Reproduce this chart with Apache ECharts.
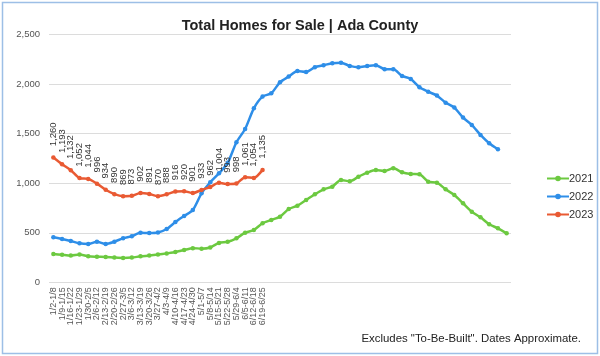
<!DOCTYPE html>
<html>
<head>
<meta charset="utf-8">
<script src="https://cdn.jsdelivr.net/npm/echarts@6/dist/echarts.min.js"></script>
<style>
html,body{margin:0;padding:0;background:#fff;}
#c{width:600px;height:356px;}
</style>
</head>
<body>
<div id="c"></div>
<script>
const weekLabels = ['1/2-1/8','1/9-1/15','1/16-1/22','1/23-1/29','1/30-2/5','2/6-2/12','2/13-2/19','2/20-2/26','2/27-3/5','3/6-3/12','3/13-3/19','3/20-3/26','3/27-4/2','4/3-4/9','4/10-4/16','4/17-4/23','4/24-4/30','5/1-5/7','5/8-5/14','5/15-5/21','5/22-5/28','5/29-6/4','6/5-6/11','6/12-6/18','6/19-6/25'];
const totalWeeks = 53;
const seriesNames = ['2021','2022','2023'];
const data2021 = [286,278,270,280,262,258,256,250,246,250,262,270,280,292,305,326,345,340,352,398,410,444,501,528,596,629,663,740,774,831,889,939,966,1033,1020,1066,1107,1134,1124,1151,1111,1094,1090,1016,1006,939,882,798,713,656,586,545,495];
const data2022 = [454,437,417,394,387,410,387,410,445,466,500,498,503,538,609,670,730,898,1010,1100,1205,1414,1548,1757,1875,1909,2020,2077,2134,2124,2172,2192,2212,2218,2185,2172,2185,2192,2152,2152,2084,2053,1970,1925,1885,1814,1764,1663,1589,1488,1404,1343];
const data2023 = [1260,1193,1132,1052,1044,996,934,890,869,873,902,891,870,888,916,920,901,933,962,1004,993,998,1061,1054,1135];
const yTicks = {min:0, max:2500, interval:500};

const categories = [];
for (let i = 0; i < totalWeeks; i++) categories.push(i < weekLabels.length ? weekLabels[i] : '');

const fmt = v => Number(v).toLocaleString('en-US');
const colors = ['#6cc940','#2e8ee8','#e95a33'];
const font = 'Liberation Sans, Arial, sans-serif';

const chart = echarts.init(document.getElementById('c'), null, {renderer:'canvas'});
function lineSeries(name, data, color, withLabels) {
  return {
    name, type:'line', data, smooth:0.25,
    symbol:'circle', symbolSize:4.5, showSymbol:true,
    lineStyle:{width:2.5, color},
    itemStyle:{color},
    z: name === '2023' ? 5 : 3,
    label: withLabels ? {
      show:true, position:'top', rotate:90, align:'left', verticalAlign:'middle',
      distance:9, fontSize:9.5, color:'#333', fontFamily:font,
      formatter: p => fmt(p.value)
    } : {show:false}
  };
}
chart.setOption({
  animation:false,
  title:{
    text:'Total Homes for Sale | Ada County', left:'center', top:13,
    textStyle:{fontSize:14.5, fontWeight:'bold', color:'#222', fontFamily:font}
  },
  grid:{left:49, right:89, top:34.7, bottom:73.7, containLabel:false},
  legend:{
    orient:'vertical', left:541, top:168, itemGap:7, itemWidth:22, itemHeight:7,
    data:seriesNames,
    textStyle:{fontSize:11, color:'#333', fontFamily:font, padding:[0,0,0,-5]}
  },
  xAxis:{
    type:'category', data:categories, boundaryGap:true,
    axisLine:{show:false}, axisTick:{show:false},
    axisLabel:{interval:0, rotate:90, fontSize:9, color:'#555', margin:5, fontFamily:font}
  },
  yAxis:{
    type:'value', min:yTicks.min, max:yTicks.max, interval:yTicks.interval,
    axisLine:{show:false}, axisTick:{show:false},
    splitLine:{lineStyle:{color:'#dcdcdc', width:1}},
    axisLabel:{fontSize:9.5, color:'#555', margin:9, formatter: v => fmt(v), fontFamily:font}
  },
  series:[
    lineSeries(seriesNames[0], data2021, colors[0], false),
    lineSeries(seriesNames[1], data2022, colors[1], false),
    lineSeries(seriesNames[2], data2023, colors[2], true)
  ],
  graphic:[
    {type:'rect', shape:{x:2.5, y:2.5, width:595, height:351}, style:{fill:null, stroke:'#9dbfe6', lineWidth:1.5}, silent:true},
    {type:'text', right:19, top:333, style:{text:'Excludes "To-Be-Built". Dates Approximate.', fontSize:11.4, fill:'#222', fontFamily:font}}
  ]
});
</script>
</body>
</html>
